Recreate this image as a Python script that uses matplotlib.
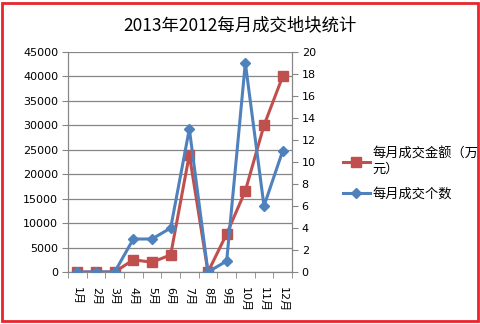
import matplotlib.pyplot as plt
from matplotlib.patches import Rectangle

plt.rcParams['font.family'] = ['Noto Sans CJK SC', 'DejaVu Sans']

months = ['1月', '2月', '3月', '4月', '5月', '6月', '7月', '8月', '9月', '10月', '11月', '12月']
amount = [0, 0, 0, 2500, 2000, 3500, 24000, 0, 7800, 16600, 30000, 40000]
count = [0, 0, 0, 3, 3, 4, 13, 0, 1, 19, 6, 11]

red = '#C0504D'
blue = '#4F81BD'
grid_c = '#868686'
num_font = ['DejaVu Sans', 'Noto Sans CJK SC']

fig = plt.figure(figsize=(4.81, 3.24), dpi=100)
ax = fig.add_axes([68 / 481, 1 - 272 / 324, 224 / 481, 220 / 324])
ax2 = ax.twinx()

x = list(range(len(months)))
l1, = ax.plot(x, amount, color=red, lw=2.2, marker='s', ms=7, zorder=3)
l2, = ax2.plot(x, count, color=blue, lw=2.2, marker='D', ms=5.5, zorder=3)

ax.set_xlim(-0.5, 11.5)
ax.set_ylim(0, 45000)
ax.set_yticks(range(0, 45001, 5000))
ax2.set_ylim(0, 20)
ax2.set_yticks(range(0, 21, 2))
ax.yaxis.grid(True, color=grid_c, lw=0.9)
ax.set_axisbelow(True)

ax.set_xticks(x)
ax.set_xticklabels(months, rotation=270, fontsize=8, family=num_font)
ax.set_xticks([i - 0.5 for i in range(13)], minor=True)
ax.tick_params(axis='x', which='major', length=0, pad=11)
ax.tick_params(axis='x', which='minor', length=4, color=grid_c)
ax.tick_params(axis='y', labelsize=8, length=4, color=grid_c, pad=3)
ax2.tick_params(axis='y', labelsize=8, length=4, color=grid_c, pad=3)
for lab in ax.get_yticklabels() + ax2.get_yticklabels():
    lab.set_family(num_font)

for a in (ax, ax2):
    a.spines['top'].set_visible(False)
    for side in ('left', 'right', 'bottom'):
        a.spines[side].set_color(grid_c)

fig.text(0.5, 1 - 25 / 324, '2013年2012每月成交地块统计', ha='center', va='center', fontsize=12.5)

fig.legend([l1, l2], ['每月成交金额（万\n元）', '每月成交个数'],
           loc='center left', bbox_to_anchor=(338 / 481, 1 - 174 / 324),
           frameon=False, fontsize=9.5, handlelength=2.0, labelspacing=0.9,
           handletextpad=0.2, borderaxespad=0)

fig.patches.append(Rectangle((2 / 481, 3 / 324), 476 / 481, 318 / 324, transform=fig.transFigure,
                             fill=False, edgecolor='#E8262D', lw=2))

fig.savefig('out.png', dpi=100)
